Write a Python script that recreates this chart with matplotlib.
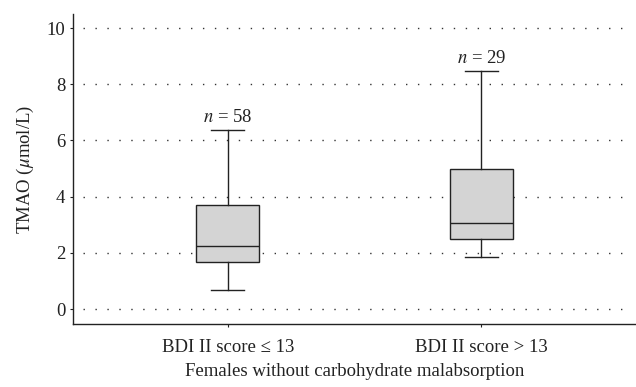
import matplotlib
matplotlib.use("Agg")
import matplotlib.pyplot as plt

# ----------------------- data ---------------------------
groups     = ["BDI II score \u2264 13", "BDI II score > 13"]
n_labels   = ["58", "29"]
whis_low   = [0.68, 1.87]
q1         = [1.67, 2.48]
medians    = [2.25, 3.07]
q3         = [3.69, 4.97]
whis_high  = [6.39, 8.48]
y_ticks    = [0, 2, 4, 6, 8, 10]
# --------------------------------------------------------

plt.rcParams["font.family"] = ["Liberation Serif", "DejaVu Serif"]
plt.rcParams["mathtext.fontset"] = "stix"

FS = 13.5
INK = "#222222"

fig = plt.figure(figsize=(6.36, 3.87), dpi=100)
ax = fig.add_axes([73 / 636, 1 - 324 / 387, 1 - 73 / 636, (324 - 14) / 387])

stats = []
for i, g in enumerate(groups):
    stats.append(dict(label=g, whislo=whis_low[i], q1=q1[i], med=medians[i],
                      q3=q3[i], whishi=whis_high[i], fliers=[]))

ax.bxp(stats, positions=range(len(groups)), widths=0.25, patch_artist=True,
       showfliers=False,
       boxprops=dict(facecolor="#d4d4d4", edgecolor=INK, linewidth=1.0),
       medianprops=dict(color=INK, linewidth=1.0),
       whiskerprops=dict(color=INK, linewidth=1.0),
       capprops=dict(color=INK, linewidth=1.0),
       capwidths=0.13, zorder=3)

for i, n in enumerate(n_labels):
    ax.text(i, whis_high[i] + 0.12, f"$n$ = {n}", ha="center", va="bottom",
            fontsize=FS, color=INK)

ax.set_xlim(-0.61, 1.61)
ax.set_ylim(-0.53, 10.5)
ax.set_yticks(y_ticks)
ax.set_xticks(range(len(groups)))
ax.set_xticklabels(groups)

# dotted guide lines, starting a little right of the axis like the original
ax.hlines(y_ticks, -0.57, 1.57, colors="#333333", linewidth=1.0,
          linestyles=[(0, (1, 7.6))], zorder=1)

for s in ["top", "right"]:
    ax.spines[s].set_visible(False)
for s in ["left", "bottom"]:
    ax.spines[s].set_linewidth(1.0)
    ax.spines[s].set_color(INK)

ax.tick_params(axis="y", length=2.5, width=0.8, labelsize=FS, pad=3, colors=INK)
ax.tick_params(axis="x", length=2.5, width=0.8, labelsize=FS, pad=8, colors=INK)

ax.set_ylabel("TMAO ($\\mu$mol/L)", fontsize=FS, labelpad=8, color=INK)
ax.set_xlabel("Females without carbohydrate malabsorption", fontsize=FS,
              labelpad=5, color=INK)

fig.savefig("out.png", dpi=100)
